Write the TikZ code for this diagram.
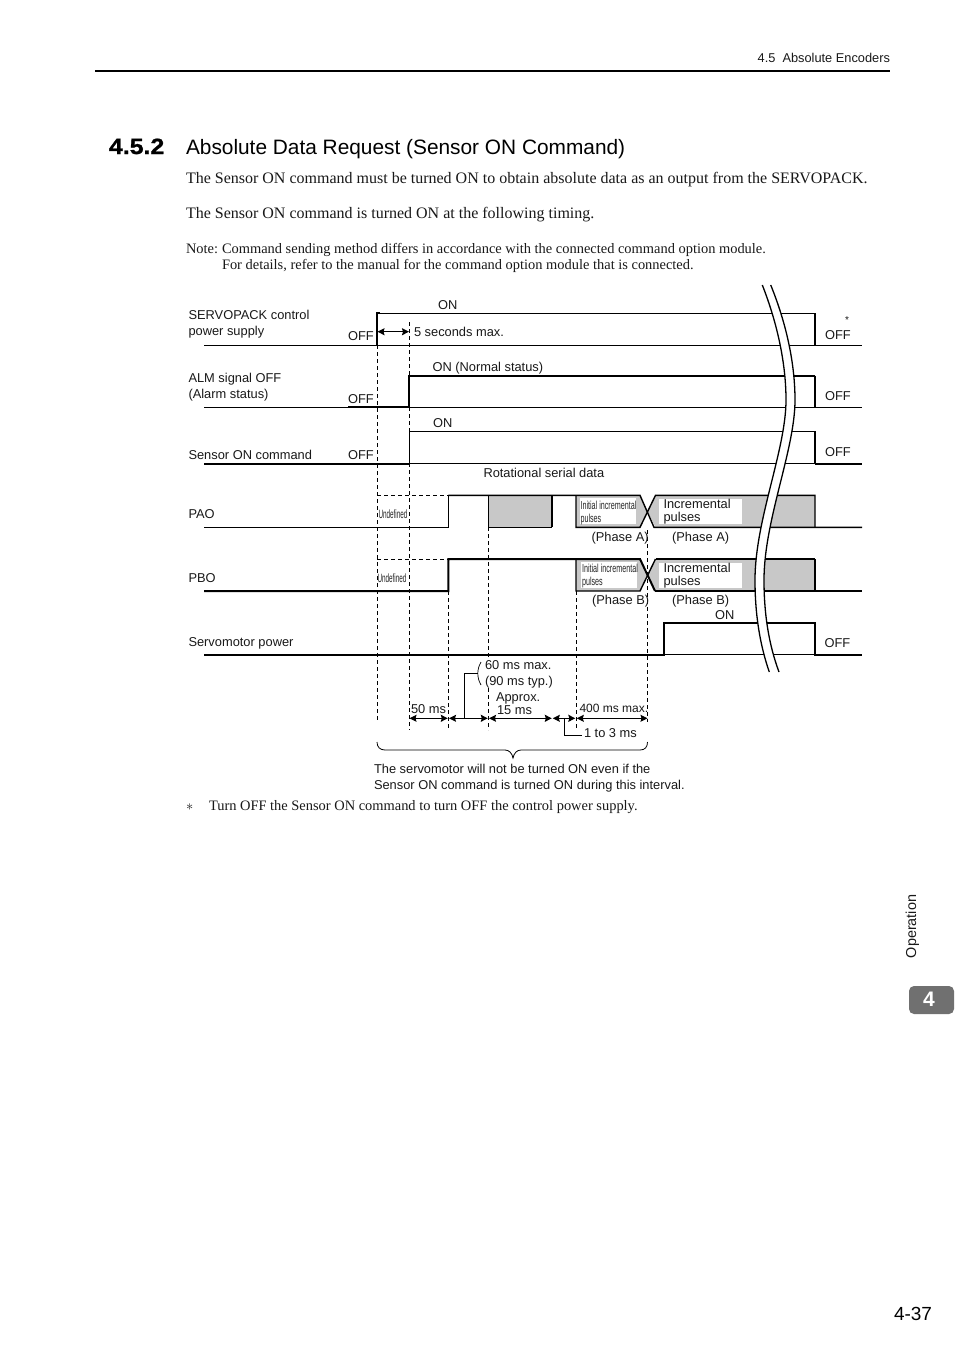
\documentclass[tikz,border=0pt]{standalone}
\usepackage{fontspec}
\setmainfont{Liberation Serif}
\setsansfont{Liberation Sans}
\newfontfamily\condfont[FakeStretch=0.62]{Liberation Sans}
\newfontfamily\narrowfont[FakeStretch=0.53]{Liberation Sans}
\newfontfamily\widebold[FakeStretch=1.13,FakeBold=1.2]{Liberation Sans Bold}
\usetikzlibrary{arrows.meta}
\definecolor{greyfill}{HTML}{C8C8C8}
\definecolor{tabgrey}{HTML}{707070}
\tikzset{
  x=1pt,y=-1pt,
  txt/.style={inner sep=0pt,outer sep=0pt,anchor=base west},
  lab/.style={txt,font=\sffamily\fontsize{12.85}{15}\selectfont,text=black!90},
  body/.style={txt,font=\rmfamily\fontsize{16}{18}\selectfont,text=black!90},
  note/.style={txt,font=\rmfamily\fontsize{14.43}{16}\selectfont,text=black!90},
  cond/.style={txt,font=\condfont\fontsize{11.6}{13}\selectfont,text=black!85},
  condsmall/.style={txt,font=\narrowfont\fontsize{12}{13}\selectfont,text=black!85},
  thin sig/.style={line width=1.1pt,line join=miter},
  thick sig/.style={line width=2pt,line join=miter},
  guide/.style={line width=0.8pt,dash pattern=on 4pt off 3pt},
  dim/.style={line width=1pt,{Stealth[length=7pt,width=7pt,inset=1pt]}-{Stealth[length=7pt,width=7pt,inset=1pt]}},
  leader/.style={line width=1pt},
  greyzone/.style={fill=greyfill,draw=none},
  whitezone/.style={fill=white,draw=none},
}
\begin{document}
\begin{tikzpicture}
\useasboundingbox[fill=white] (0,0) rectangle (954,1350);

% page furniture
\node[lab,anchor=base east,font=\sffamily\fontsize{12.8}{15}\selectfont] (hdr) at (890,62) {4.5\ \ Absolute Encoders};
\draw[line width=2pt] (95,71) -- (890,71);
\node[txt,font=\widebold\fontsize{22}{25}\selectfont] (secnum) at (109,154) {4.5.2};
\node[txt,font=\sffamily\fontsize{20.85}{25}\selectfont] (sectitle) at (186,154) {Absolute Data Request (Sensor ON Command)};
\node[body] (p1) at (186,183) {The Sensor ON command must be turned ON to obtain absolute data as an output from the SERVOPACK.};
\node[body] (p2) at (186,218) {The Sensor ON command is turned ON at the following timing.};
\node[note] (n1) at (186,253) {Note:};
\node[note] (n2) at (222,253) {Command sending method differs in accordance with the connected command option module.};
\node[note] (n3) at (222,269) {For details, refer to the manual for the command option module that is connected.};
\node[note] (star) at (186,810) {$\ast$};
\node[note] (foot) at (209,810) {Turn OFF the Sensor ON command to turn OFF the control power supply.};
\node[txt,font=\sffamily\fontsize{19}{22}\selectfont] (pgno) at (894,1320) {4-37};
\node[lab,anchor=center,rotate=90,font=\sffamily\fontsize{14.4}{16}\selectfont] (oper) at (912.5,926.5) {Operation};
\fill[tabgrey,rounded corners=5pt] (954,986) -- (909,986) -- (909,1014) -- (954,1014) -- cycle;
\node[anchor=center,inner sep=0pt,text=white,font=\sffamily\bfseries\fontsize{21}{23}\selectfont] (tabnum) at (929,999) {4};

% grey areas and their white label patches
\fill[greyzone] (488.3,495.3) rectangle (552,527.3);
\fill[greyzone] (576,495.3) -- (640,495.3) -- (647.5,511.3) -- (640,527.3) -- (576,527.3) -- cycle;
\fill[greyzone] (655.5,495.3) -- (815,495.3) -- (815,527.3) -- (655.5,527.3) -- (647.5,511.3) -- cycle;
\fill[greyzone] (576,559) -- (640,559) -- (647.5,575) -- (640,591) -- (576,591) -- cycle;
\fill[greyzone] (655.5,559) -- (815,559) -- (815,591) -- (655.5,591) -- (647.5,575) -- cycle;
\fill[whitezone] (580,498) rectangle (636,524);
\fill[whitezone] (581,562) rectangle (637,588);
\fill[whitezone] (659,499) rectangle (742,524);
\fill[whitezone] (659,563) rectangle (742,588);

% guides
\draw[guide] (377,345) -- (377,721.5);
\draw[guide] (409.5,322) -- (409.5,376);
\draw[guide] (409.5,407) -- (409.5,431.7);
\draw[guide] (409.5,463.3) -- (409.5,730);
\draw[guide] (448.3,591) -- (448.3,730);
\draw[guide] (488.3,527.3) -- (488.3,658);
\draw[guide] (488.3,688) -- (488.3,730);
\draw[guide] (576.7,591) -- (576.7,730);
\draw[guide] (647.5,530) -- (647.5,722);
\draw[guide] (377,495.3) -- (448.3,495.3);
\draw[guide] (377,559) -- (448.3,559);

% signals
\draw[thin sig] (204,345.3) -- (377,345.3);
\draw[thick sig] (377,345.3) -- (377,313.3) -- (380,313.3);
\draw[line width=1.5pt] (380,313.3) -- (815,313.3) -- (815,345.3);
\draw[thin sig] (377,345.3) -- (862,345.3);

\draw[thin sig] (204,407.3) -- (409,407.3);
\draw[thick sig] (348,407.3) -- (409,407.3) -- (409,375.7) -- (815,375.7);
\draw[line width=1.5pt] (815,375.7) -- (815,407.3);
\draw[thin sig] (409,407.3) -- (862,407.3);

\draw[thick sig] (204,463.5) -- (409.5,463.5);
\draw[thin sig] (409.5,463.3) -- (409.5,431.7) -- (815,431.7) -- (815,463.3) -- (409.5,463.3);
\draw[thick sig] (815,463.5) -- (862,463.5);

% PAO
\draw[thin sig] (204,527.3) -- (448.3,527.3) -- (448.3,495.3);
\draw[line width=1.4pt] (448.3,495.3) -- (640,495.3) -- (654,527.3) -- (862,527.3);
\draw[line width=1.4pt] (488.3,495.3) -- (488.3,527.3) -- (552,527.3);
\draw[thick sig] (552,527.3) -- (552,495.3);
\draw[line width=1.4pt] (576,495.3) -- (576,527.3) -- (640,527.3) -- (655.5,495.3) -- (815,495.3) -- (815,527.3);

% PBO
\draw[thick sig] (204,591) -- (448.3,591) -- (448.3,559) -- (640,559) -- (655,591);
\draw[line width=1.4pt] (655,591) -- (862,591);
\draw[line width=1.4pt] (576,559) -- (576,591) -- (640,591) -- (655.5,559);
\draw[thick sig] (655.5,559) -- (815,559);
\draw[line width=1.4pt] (815,559) -- (815,591);

% Servomotor power
\draw[thick sig] (204,654.7) -- (664,654.7) -- (664,622.7) -- (815,622.7) -- (815,654.7) -- (862,654.7);
\draw[thin sig] (664,654.7) -- (815,654.7);

% break band
\fill[white] (762.3,285) .. controls (778,325) and (786,365) .. (786,400)
  .. controls (786,450) and (755,520) .. (755,580)
  .. controls (755,615) and (760,645) .. (769.3,672)
  -- (779,672) .. controls (769,645) and (764,615) .. (764,580)
  .. controls (764,520) and (795,450) .. (795,400)
  .. controls (795,365) and (787,325) .. (770.7,285) -- cycle;
\draw[line width=1.3pt] (762.3,285) .. controls (778,325) and (786,365) .. (786,400)
  .. controls (786,450) and (755,520) .. (755,580)
  .. controls (755,615) and (760,645) .. (769.3,672);
\draw[line width=1.3pt] (770.7,285) .. controls (787,325) and (795,365) .. (795,400)
  .. controls (795,450) and (764,520) .. (764,580)
  .. controls (764,615) and (769,645) .. (779,672);

% dimension points
\coordinate (a0) at (377.5,331.7);
\coordinate (a1) at (409,331.7);
\coordinate (d1) at (409.5,718.3);
\coordinate (d2) at (447.8,718.3);
\coordinate (d2b) at (449,718.3);
\coordinate (d3) at (487.8,718.3);
\coordinate (d3b) at (489,718.3);
\coordinate (d4) at (551.8,718.3);
\coordinate (d5) at (552.8,718.3);
\coordinate (d6) at (575.3,718.3);
\coordinate (d7) at (576.8,718.3);
\coordinate (d8) at (647.5,718.3);
\coordinate (j1) at (464.3,718.3);
\coordinate (j2) at (464.3,673.3);
\coordinate (j3) at (477.8,673.3);
\coordinate (k1) at (564.3,718.3);
\coordinate (k2) at (564.3,735);
\coordinate (k3) at (581.5,735);

\draw[dim,line width=1.2pt] (a0) -- (a1);
\draw[dim] (d1) -- (d2);
\draw[dim] (d2b) -- (d3);
\draw[dim] (d3b) -- (d4);
\draw[dim] (d5) -- (d6);
\draw[dim] (d7) -- (d8);
\draw[leader] (j1) -- (j2) -- (j3);
\draw[line width=0.7pt] (481,662) .. controls (478.7,666) and (477.8,670) .. (477.8,673.3) .. controls (477.8,677) and (478.7,681) .. (481,685);
\draw[leader] (k1) -- (k2) -- (k3);

% brace
\draw[line width=0.8pt] (377,742) .. controls (377,747) and (380,750) .. (385,750) -- (505,750)
  .. controls (509,750) and (512,753) .. (513,758) .. controls (514,753) and (517,750) .. (521,750)
  -- (640,750) .. controls (645,750) and (647.5,747) .. (647.5,742);

% labels
\node[lab] (l1) at (188.5,319) {SERVOPACK control};
\node[lab] (l1b) at (188.5,335) {power supply};
\node[lab] (off1) at (348,340) {OFF};
\node[lab] (on1) at (438,309) {ON};
\node[lab] (sec5) at (414,336) {5 seconds max.};
\node[lab,font=\sffamily\fontsize{10}{12}\selectfont] (ast) at (845,323) {*};
\node[lab] (off1r) at (825,339) {OFF};
\node[lab] (l2) at (188.5,382) {ALM signal OFF};
\node[lab] (l2b) at (188.5,398) {(Alarm status)};
\node[lab] (off2) at (348,403) {OFF};
\node[lab] (on2) at (432.5,371) {ON (Normal status)};
\node[lab] (off2r) at (825,400) {OFF};
\node[lab] (l3) at (188.5,459) {Sensor ON command};
\node[lab] (off3) at (348,459) {OFF};
\node[lab] (on3) at (433,427) {ON};
\node[lab] (off3r) at (825,456) {OFF};
\node[lab] (rot) at (483.5,477) {Rotational serial data};
\node[lab] (l4) at (188.5,518) {PAO};
\node[condsmall] (und1) at (378.5,518) {Undefined};
\node[cond] (ia1) at (580.5,509) {Initial incremental};
\node[cond] (ia2) at (580.5,522) {pulses};
\node[lab] (pa1) at (591.5,541) {(Phase A)};
\node[lab] (pa2) at (672,541) {(Phase A)};
\node[lab] (ia3) at (663.5,508) {Incremental};
\node[lab] (ia4) at (663.5,521.5) {pulses};
\node[lab] (l5) at (188.5,582) {PBO};
\node[condsmall] (und2) at (377.5,582) {Undefined};
\node[cond] (ib1) at (582,572) {Initial incremental};
\node[cond] (ib2) at (582,585) {pulses};
\node[lab] (pb1) at (592,604) {(Phase B)};
\node[lab] (pb2) at (672,604) {(Phase B)};
\node[lab] (ib3) at (663.5,572) {Incremental};
\node[lab] (ib4) at (663.5,585) {pulses};
\node[lab] (on6) at (715,619) {ON};
\node[lab] (l6) at (188.5,646) {Servomotor power};
\node[lab] (off6r) at (824.5,647) {OFF};
\node[lab] (t60) at (485,669) {60 ms max.};
\node[lab] (t90) at (485,685) {(90 ms typ.)};
\node[lab] (ap1) at (496,701) {Approx.};
\node[lab] (ap2) at (497,714) {15 ms};
\node[lab] (t50) at (411,713) {50 ms};
\node[lab,font=\sffamily\fontsize{12}{14}\selectfont] (t400) at (579.5,712) {400 ms max.};
\node[lab] (t13) at (584,737) {1 to 3 ms};
\node[lab] (c1) at (374,773) {The servomotor will not be turned ON even if the};
\node[lab] (c2) at (374,789) {Sensor ON command is turned ON during this interval.};
\end{tikzpicture}
\end{document}
